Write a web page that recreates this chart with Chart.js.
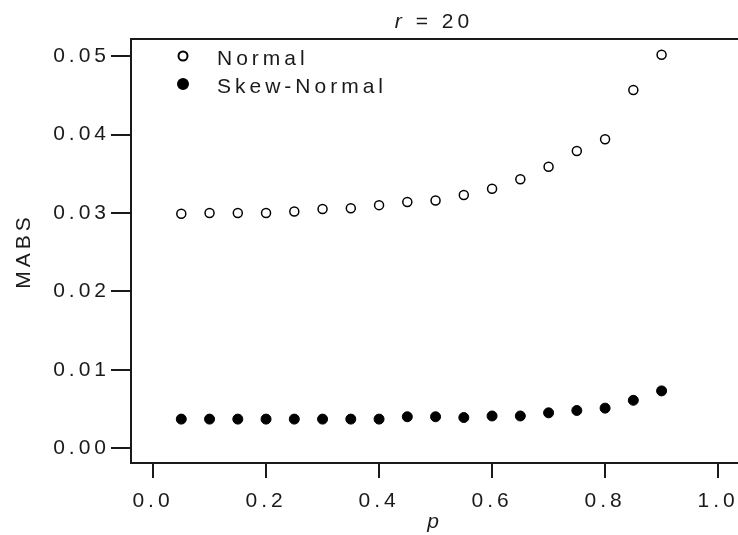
<!DOCTYPE html>
<html>
<head>
<meta charset="utf-8">
<script src="https://cdn.jsdelivr.net/npm/chart.js@4.4.1/dist/chart.umd.min.js"></script>
<style>
  html, body { margin: 0; padding: 0; background: #fff; overflow: hidden; }
  canvas { display: block; }
</style>
</head>
<body>
<canvas id="myChart" width="760" height="535"></canvas>
<script>
// values
const pValues = [0.05, 0.10, 0.15, 0.20, 0.25, 0.30, 0.35, 0.40, 0.45, 0.50, 0.55, 0.60, 0.65, 0.70, 0.75, 0.80, 0.85, 0.90];
const normalMabs = [0.0299, 0.0300, 0.0300, 0.0300, 0.0302, 0.0305, 0.0306, 0.0310, 0.0314, 0.0316, 0.0323, 0.0331, 0.0343, 0.0359, 0.0379, 0.0394, 0.0457, 0.0502];
const skewNormalMabs = [0.0037, 0.0037, 0.0037, 0.0037, 0.0037, 0.0037, 0.0037, 0.0037, 0.0040, 0.0040, 0.0039, 0.0041, 0.0041, 0.0045, 0.0048, 0.0051, 0.0061, 0.0073];
const seriesNames = ['Normal', 'Skew-Normal'];
const xTickValues = [0.0, 0.2, 0.4, 0.6, 0.8, 1.0];
const yTickValues = [0.00, 0.01, 0.02, 0.03, 0.04, 0.05];
const titleVar = 'r';
const titleRest = ' = 20';

const FONT = '"Liberation Sans", Arial, sans-serif';
const SIZE = 21;
const INK = '#1a1a1a';
const SPACING = '4px';

const toPoints = (xs, ys) => xs.map((x, i) => ({x: x, y: ys[i]}));

// wide letter spacing like the original output
const spacingPlugin = {
  id: 'spacing',
  beforeLayout(chart) { chart.ctx.letterSpacing = SPACING; },
  beforeDraw(chart) { chart.ctx.letterSpacing = SPACING; }
};

// box round the plot area, title, legend
const framePlugin = {
  id: 'frame',
  afterDraw(chart) {
    const {ctx, chartArea} = chart;
    ctx.save();
    ctx.letterSpacing = SPACING;
    ctx.strokeStyle = INK;
    ctx.lineWidth = 2;
    ctx.strokeRect(chartArea.left, chartArea.top, chartArea.right - chartArea.left, chartArea.bottom - chartArea.top);

    // title with italic r
    ctx.fillStyle = INK;
    ctx.textBaseline = 'middle';
    ctx.font = 'italic ' + SIZE + 'px ' + FONT;
    const w1 = ctx.measureText(titleVar).width;
    ctx.font = SIZE + 'px ' + FONT;
    const w2 = ctx.measureText(titleRest).width;
    const x = 434 - (w1 + w2) / 2;
    ctx.textAlign = 'left';
    ctx.font = 'italic ' + SIZE + 'px ' + FONT;
    ctx.fillText(titleVar, x, 22);
    ctx.font = SIZE + 'px ' + FONT;
    ctx.fillText(titleRest, x + w1, 22);

    // legend
    chart.data.datasets.forEach((ds, i) => {
      const lx = chartArea.left + 52;
      const ly = chartArea.top + 17 + i * 28;
      ctx.fillStyle = ds.pointBackgroundColor;
      ctx.strokeStyle = ds.pointBorderColor;
      Chart.helpers.drawPoint(ctx, {pointStyle: 'circle', radius: ds.pointRadius, borderWidth: ds.pointBorderWidth, rotation: 0}, lx, ly);
      ctx.fillStyle = INK;
      ctx.font = SIZE + 'px ' + FONT;
      ctx.fillText(ds.label, lx + 34, ly + 3);
    });
    ctx.restore();
  }
};

new Chart(document.getElementById('myChart').getContext('2d'), {
  type: 'scatter',
  data: {
    datasets: [
      {
        label: seriesNames[0],
        data: toPoints(pValues, normalMabs),
        pointStyle: 'circle',
        pointRadius: 4.5,
        pointBorderWidth: 1.5,
        pointBackgroundColor: '#ffffff',
        pointBorderColor: '#000000'
      },
      {
        label: seriesNames[1],
        data: toPoints(pValues, skewNormalMabs),
        pointStyle: 'circle',
        pointRadius: 5,
        pointBorderWidth: 1,
        pointBackgroundColor: '#000000',
        pointBorderColor: '#000000'
      }
    ]
  },
  options: {
    responsive: false,
    animation: false,
    devicePixelRatio: 1,
    layout: { padding: { top: 39, right: 21, left: 0, bottom: 0 } },
    plugins: {
      legend: { display: false },
      title: { display: false },
      tooltip: { enabled: false }
    },
    scales: {
      x: {
        type: 'linear',
        min: -0.039,
        max: 1.037,
        afterBuildTicks: s => { s.ticks = xTickValues.map(v => ({value: v})); },
        afterFit: s => { s.height = 72; s.paddingLeft = 0; s.paddingRight = 0; },
        border: { display: true, color: INK, width: 2 },
        grid: { drawOnChartArea: false, drawTicks: true, tickLength: 15, color: INK, lineWidth: 2 },
        ticks: {
          padding: 11,
          color: INK,
          font: { family: FONT, size: SIZE },
          maxRotation: 0,
          callback: v => v.toFixed(1)
        },
        title: {
          display: true,
          text: 'p',
          color: INK,
          font: { family: FONT, size: SIZE, style: 'italic' },
          padding: { top: 0, bottom: 0 }
        }
      },
      y: {
        type: 'linear',
        min: -0.0019,
        max: 0.0522,
        afterBuildTicks: s => { s.ticks = yTickValues.map(v => ({value: v})); },
        afterFit: s => { s.width = 131; s.paddingTop = 0; s.paddingBottom = 0; },
        border: { display: true, color: INK, width: 2 },
        grid: { drawOnChartArea: false, drawTicks: true, tickLength: 20, color: INK, lineWidth: 2 },
        ticks: {
          padding: 1,
          color: INK,
          font: { family: FONT, size: SIZE },
          callback: v => v.toFixed(2)
        },
        title: {
          display: true,
          text: 'MABS',
          color: INK,
          font: { family: FONT, size: SIZE },
          padding: { top: 12, bottom: 0 }
        }
      }
    }
  },
  plugins: [spacingPlugin, framePlugin]
});
</script>
</body>
</html>
